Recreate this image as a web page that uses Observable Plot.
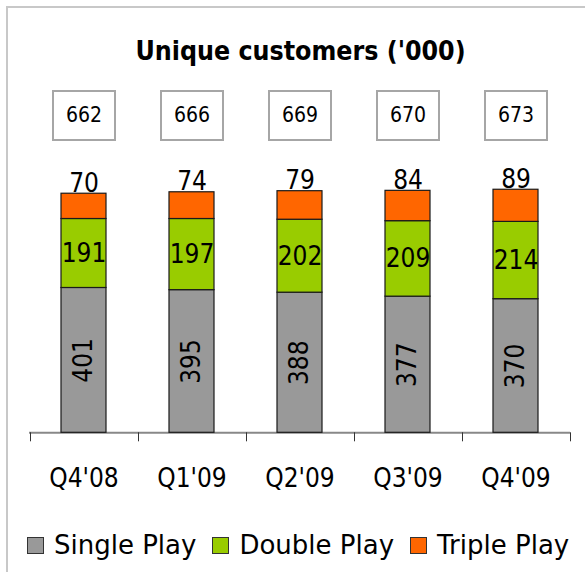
<!DOCTYPE html>
<html>
<head>
<meta charset="utf-8">
<script src="https://cdn.jsdelivr.net/npm/d3@7"></script>
<script src="https://cdn.jsdelivr.net/npm/@observablehq/plot@0.6"></script>
<style>
  html, body { margin: 0; padding: 0; background: #fff; }
  body { width: 585px; height: 572px; overflow: hidden; position: relative;
         font-family: "DejaVu Sans Condensed", "DejaVu Sans", sans-serif; font-stretch: condensed; color: #000; }
  #frame { position: absolute; left: 6px; top: 6px; width: 700px; height: 700px;
           border-left: 2px solid #c8c8c8; border-top: 2px solid #c8c8c8; box-sizing: border-box; pointer-events: none; }
  #title { height: 76px; box-sizing: border-box; padding-top: 38px; padding-left: 16px;
           text-align: center; font-weight: bold; font-size: 26.5px; line-height: 26px; }
  #chart svg { display: block; }
  #legend { display: flex; align-items: center; margin-top: 26px; padding-left: 27px;
            height: 26px; line-height: 26px; font-size: 26px; font-family: "DejaVu Sans", sans-serif; font-stretch: normal; white-space: nowrap; }
  .item { display: flex; align-items: center; margin-right: 16px; }
  .sw { width: 15px; height: 15px; border: 1px solid #333; margin-right: 10px; }
</style>
</head>
<body>
<div id="frame"></div>
<div id="title">Unique customers ('000)</div>
<div id="chart"></div>
<div id="legend"></div>
<script>
const quarters = ["Q4'08", "Q1'09", "Q2'09", "Q3'09", "Q4'09"];
const seriesNames = ["Single Play", "Double Play", "Triple Play"];
const seriesColors = ["#999999", "#99cc00", "#ff6600"];
const single = [401, 395, 388, 377, 370];
const double = [191, 197, 202, 209, 214];
const triple = [70, 74, 79, 84, 89];
const totals = [662, 666, 669, 670, 673];

const rows = [];
quarters.forEach((q, i) => {
  rows.push({quarter: q, series: seriesNames[0], value: single[i]});
  rows.push({quarter: q, series: seriesNames[1], value: double[i]});
  rows.push({quarter: q, series: seriesNames[2], value: triple[i]});
});

const boxSymbol = { draw(ctx) { ctx.rect(-31, -24.5, 62, 49); } };

function boundaryTicks(index, scales) {
  const x = scales.x;
  const bw = typeof x.bandwidth === "function" ? x.bandwidth() : scales.scales.x.bandwidth;
  const st = typeof x.step === "function" ? x.step() : scales.scales.x.step;
  const gap = st - bw;
  const y0 = scales.y(0);
  const xs = quarters.map(q => x(q) - gap / 2);
  xs.push(x(quarters[quarters.length - 1]) + bw + gap / 2);
  const g = d3.create("svg:g");
  g.selectAll("line").data(xs).join("line")
    .attr("x1", d => Math.round(d) + 0.5).attr("x2", d => Math.round(d) + 0.5)
    .attr("y1", y0).attr("y2", y0 + 9)
    .attr("stroke", "#333").attr("stroke-width", 1);
  return g.node();
}

const chart = Plot.plot({
  width: 585,
  height: 430,
  marginTop: 103.5,
  marginBottom: 73.7,
  marginLeft: 29,
  marginRight: 15,
  x: { domain: quarters, paddingInner: 0.584, paddingOuter: 0.292, label: null },
  y: { domain: [0, 700], axis: null },
  color: { domain: seriesNames, range: seriesColors },
  style: { fontFamily: "'DejaVu Sans Condensed', 'DejaVu Sans', sans-serif", fontSize: "26px", fontStretch: "condensed", color: "#000", background: "transparent" },
  marks: [
    Plot.ruleY([0], { stroke: "#888", strokeWidth: 2 }),
    boundaryTicks,
    Plot.barY(rows, { x: "quarter", y: "value", fill: "series", stroke: "#1a1a1a", strokeWidth: 1.2 }),
    Plot.text(quarters, { x: d => d, y: (d, i) => single[i] / 2, text: (d, i) => String(single[i]), rotate: -90, lineAnchor: "middle", fontSize: 26, fill: "#000" }),
    Plot.text(quarters, { x: d => d, y: (d, i) => single[i] + double[i] / 2, text: (d, i) => String(double[i]), lineAnchor: "middle", fontSize: 26, fill: "#000" }),
    Plot.text(quarters, { x: d => d, y: (d, i) => single[i] + double[i] + triple[i], text: (d, i) => String(triple[i]), lineAnchor: "bottom", dy: -2, fontSize: 26, fill: "#000" }),
    Plot.dot(quarters, { x: d => d, frameAnchor: "top", dy: -64.5, symbol: boxSymbol, r: 10, stroke: "#a6a6a6", strokeWidth: 2, fill: "white" }),
    Plot.text(quarters, { x: d => d, frameAnchor: "top", lineAnchor: "middle", dy: -64.5, text: (d, i) => String(totals[i]), fontSize: 21, fill: "#000" }),
    Plot.axisX({ tickSize: 0, tickPadding: 36, fontSize: 26, label: null })
  ]
});
document.getElementById("chart").appendChild(chart);

const legend = document.getElementById("legend");
seriesNames.forEach((name, i) => {
  const item = document.createElement("div");
  item.className = "item";
  const sw = document.createElement("div");
  sw.className = "sw";
  sw.style.background = seriesColors[i];
  const label = document.createElement("span");
  label.textContent = name;
  item.appendChild(sw);
  item.appendChild(label);
  legend.appendChild(item);
});
</script>
</body>
</html>
